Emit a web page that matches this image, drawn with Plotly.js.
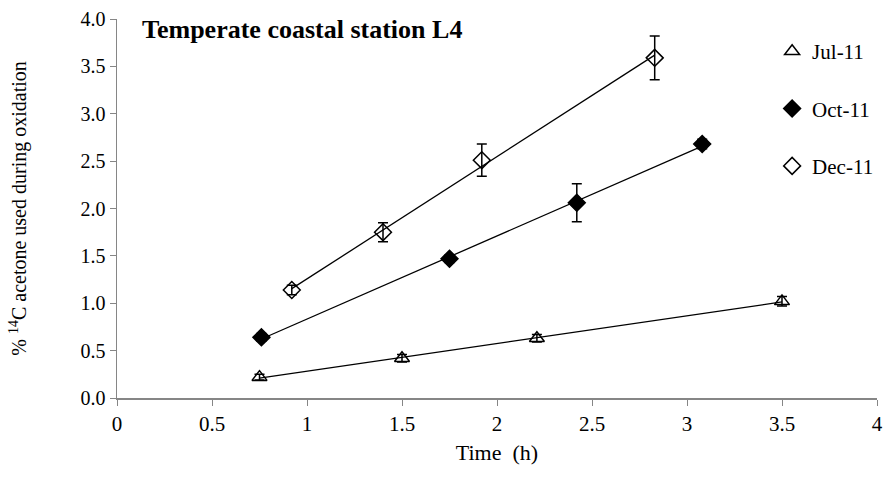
<!DOCTYPE html>
<html>
<head>
<meta charset="utf-8">
<script src="https://cdn.plot.ly/plotly-3.0.1.min.js"></script>
<style>
  html, body { margin: 0; padding: 0; background: #fff; }
  #chart { width: 892px; height: 479px; }
</style>
</head>
<body>
<div id="chart"></div>
<script>
// values
const julX = [0.75, 1.5, 2.21, 3.5];
const julY = [0.22, 0.42, 0.63, 1.02];
const julErr = [0.03, 0.04, 0.04, 0.05];

const octX = [0.76, 1.75, 2.42, 3.08];
const octY = [0.64, 1.47, 2.06, 2.68];
const octErr = [0.04, 0.04, 0.2, 0.05];

const decX = [0.92, 1.4, 1.92, 2.83];
const decY = [1.14, 1.75, 2.51, 3.59];
const decErr = [0.05, 0.1, 0.17, 0.23];

const seriesNames = ['Jul-11', 'Oct-11', 'Dec-11'];
const xTicks = [0, 0.5, 1, 1.5, 2, 2.5, 3, 3.5, 4];
const yTicks = [0, 0.5, 1, 1.5, 2, 2.5, 3, 3.5, 4];

// least squares trend line over the measured range
function trend(xs, ys) {
  const n = xs.length;
  const mx = xs.reduce((a, b) => a + b, 0) / n;
  const my = ys.reduce((a, b) => a + b, 0) / n;
  let sxy = 0, sxx = 0;
  for (let i = 0; i < n; i++) {
    sxy += (xs[i] - mx) * (ys[i] - my);
    sxx += (xs[i] - mx) * (xs[i] - mx);
  }
  const b = sxy / sxx;
  const a = my - b * mx;
  const x0 = Math.min(...xs), x1 = Math.max(...xs);
  return { x: [x0, x1], y: [a + b * x0, a + b * x1] };
}

const serif = 'Liberation Serif, Times New Roman, serif';

const series = [
  { x: julX, y: julY, err: julErr, symbol: 'triangle-up-open', size: 13 },
  { x: octX, y: octY, err: octErr, symbol: 'diamond', size: 13 },
  { x: decX, y: decY, err: decErr, symbol: 'diamond-open', size: 13 }
];

const traces = [];
series.forEach((s, i) => {
  const t = trend(s.x, s.y);
  traces.push({
    x: t.x, y: t.y,
    type: 'scatter', mode: 'lines',
    line: { color: '#000', width: 1.3 },
    showlegend: false, hoverinfo: 'skip'
  });
});
series.forEach((s, i) => {
  traces.push({
    x: s.x, y: s.y,
    type: 'scatter', mode: 'markers',
    name: seriesNames[i],
    legendgroup: seriesNames[i],
    marker: { symbol: s.symbol, size: s.size, color: '#000', line: { color: '#000', width: 1.5 } },
    error_y: { type: 'data', array: s.err, visible: true, color: '#000', thickness: 1.5, width: 5 }
  });
});

const layout = {
  width: 892,
  height: 479,
  margin: { l: 117, r: 15, t: 19, b: 81 },
  paper_bgcolor: '#fff',
  plot_bgcolor: '#fff',
  font: { family: serif, size: 18, color: '#000' },
  xaxis: {
    range: [0, 4],
    tickmode: 'array',
    tickvals: xTicks,
    ticktext: xTicks.map(String),
    ticks: 'outside',
    ticklen: 6,
    tickcolor: '#868686',
    showline: true,
    linecolor: '#868686',
    linewidth: 1.5,
    showgrid: false,
    zeroline: false,
    tickfont: { family: serif, size: 21 },
    title: { text: 'Time  (h)', font: { family: serif, size: 22 }, standoff: 10 }
  },
  yaxis: {
    range: [0, 4],
    tickmode: 'array',
    tickvals: yTicks,
    ticktext: yTicks.map(v => v.toFixed(1)),
    ticks: 'outside',
    ticklen: 6,
    tickcolor: '#868686',
    showline: true,
    linecolor: '#868686',
    linewidth: 1.5,
    showgrid: false,
    zeroline: false,
    tickfont: { family: serif, size: 20 },
    title: { text: '% <sup>14</sup>C acetone used during oxidation', font: { family: serif, size: 20 }, standoff: 48 }
  },
  showlegend: true,
  legend: {
    x: 0.862, y: 0.968,
    xanchor: 'left', yanchor: 'top',
    font: { family: serif, size: 21 },
    bgcolor: 'rgba(0,0,0,0)',
    traceorder: 'grouped',
    tracegroupgap: 27,
    itemwidth: 30
  },
  annotations: [{
    text: '<b>Temperate coastal station L4</b>',
    xref: 'paper', yref: 'paper',
    x: 0.03, y: 0.972,
    xanchor: 'left', yanchor: 'middle',
    showarrow: false,
    font: { family: serif, size: 26, color: '#000' }
  }]
};

Plotly.newPlot('chart', traces, layout, { displayModeBar: false, staticPlot: true });
</script>
</body>
</html>
